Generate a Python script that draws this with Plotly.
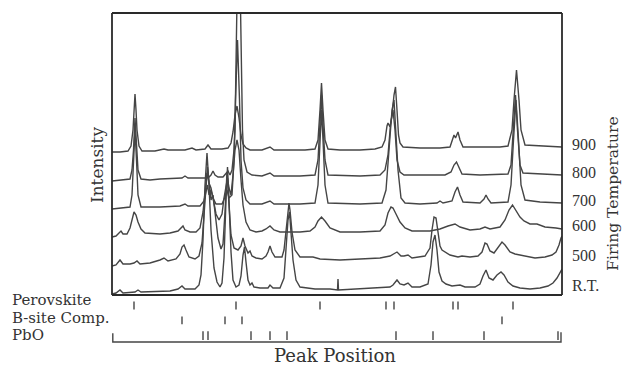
import plotly.graph_objects as go
import numpy as np

# ---------------- data (position in arb. units, stacked intensity in arb. units) ----------------
temps = ["900", "800", "700", "600", "500", "R.T."]

x_900 = [112, 120, 128, 131, 133, 134, 135, 136, 137, 139, 142, 155, 164, 168, 185, 192, 196, 205, 208, 211,
         222, 228, 231, 233, 235, 237, 239, 241, 243, 246, 250, 262, 270, 274, 290, 305, 315, 318, 320, 321.5,
         323, 325, 328, 340, 360, 375, 382, 385, 387, 388, 390, 392, 394, 395.5, 397, 398.5, 400, 403, 420, 440,
         450, 452, 454, 455.5, 458, 460, 463, 480, 500, 508, 512, 514, 516.5, 519, 521, 525, 540, 562]
y_900 = [148, 148, 149, 154, 170, 190, 206, 190, 170, 154, 149, 149, 151, 150, 150, 152, 150, 151, 155, 151,
         151, 152, 157, 168, 185, 194, 182, 165, 156, 152, 150, 150, 153, 150, 150, 150, 151, 160, 190, 217,
         190, 160, 151, 150, 150, 151, 153, 160, 174, 177, 173, 185, 205, 213, 190, 165, 157, 153, 152, 152,
         153, 160, 165, 162, 168, 160, 153, 153, 153, 154, 170, 200, 230, 200, 170, 155, 154, 153]

x_800 = [112, 125, 130, 132, 133.5, 135, 136.5, 138, 141, 150, 160, 182, 185, 188, 205, 209, 211, 213, 215, 218,
         223, 226, 228, 230, 232, 234, 235, 236.8, 238.7, 240.6, 242.5, 244, 247, 252, 262, 270, 274, 300, 315, 318,
         320, 321.5, 323, 325, 328, 360, 380, 385, 388, 390.5, 393, 395, 397, 400, 404, 420, 445, 451, 454, 456.5,
         459, 462, 480, 508, 511, 513.5, 515.5, 517.5, 520, 523, 540, 562]
y_800 = [119, 120, 121, 130, 150, 182, 150, 130, 121, 120, 121, 122, 124, 122, 122, 123, 125, 129, 125, 123,
         123, 126, 129, 125, 130, 150, 170, 287, 400, 287, 170, 140, 128, 125, 124, 127, 124, 124, 125, 140,
         175, 205, 175, 140, 125, 124, 125, 130, 145, 175, 190, 170, 140, 128, 125, 125, 125, 128, 135, 138,
         132, 126, 125, 126, 135, 170, 205, 170, 135, 127, 126, 125]

x_700 = [112, 125, 130, 132, 133.5, 135, 136.5, 138, 141, 160, 180, 185, 188, 200, 204, 206, 207.5, 209, 211, 213,
         216, 222, 225, 227, 229, 232, 234, 235.5, 237.5, 239.5, 241, 243, 246, 250, 262, 270, 274, 300, 315, 318,
         320, 321.5, 323, 325, 328, 360, 382, 386, 389, 392, 394, 396, 398, 401, 405, 420, 437, 440, 443, 452,
         455, 457.5, 460, 463, 480, 484, 486, 488, 491, 508, 511, 513.5, 516, 518.5, 521, 525, 540, 562]
y_700 = [91, 92, 93, 105, 140, 170, 140, 105, 93, 93, 94, 96, 94, 94, 99, 107, 115, 105, 110, 102,
         96, 96, 103, 110, 102, 105, 140, 200, 260, 200, 140, 112, 100, 96, 96, 99, 96, 96, 97, 115,
         160, 190, 160, 115, 97, 96, 97, 110, 150, 190, 200, 170, 130, 102, 97, 96, 97, 99, 97, 99,
         108, 113, 105, 98, 97, 101, 105, 101, 97, 98, 115, 160, 200, 160, 115, 100, 98, 97]

x_600 = [112, 116, 119, 121, 123, 127, 130, 132, 134, 136, 138, 141, 145, 160, 170, 178, 181, 183, 185, 190,
         196, 200, 203, 205, 207, 209, 211, 213, 216, 219, 222, 224, 226, 227.5, 229, 231, 233, 235, 237, 239,
         241, 243, 246, 250, 256, 262, 266, 270, 274, 280, 300, 310, 315, 318, 321.5, 325, 330, 340, 360, 380,
         385, 388, 391, 393, 396, 400, 405, 412, 430, 440, 448, 455, 460, 470, 480, 485, 490, 500, 505, 509,
         512.5, 516, 520, 524, 530, 537, 545, 556, 562]
y_600 = [63, 64, 67, 69, 66, 66, 72, 80, 88, 85, 78, 71, 67, 66, 67, 69, 72, 74, 70, 68,
         68, 72, 88, 110, 127, 117, 112, 102, 86, 80, 86, 102, 116, 122, 112, 105, 125, 150, 160, 150,
         120, 95, 78, 70, 68, 69, 71, 74, 70, 68, 68, 69, 73, 79, 83, 79, 72, 68, 68, 69,
         75, 87, 93, 92, 86, 78, 72, 69, 69, 71, 74, 76, 73, 70, 71, 73, 71, 73, 80, 90,
         95, 90, 83, 79, 76, 76, 73, 72, 71]

x_500 = [112, 116, 120, 123, 130, 134, 137, 140, 150, 160, 164, 168, 176, 180, 182, 184, 186, 189, 195, 199,
         202, 204, 206, 207.5, 209, 211, 213, 215, 218, 221, 223, 225, 227, 229, 231, 234, 238, 241, 243, 245,
         248, 250, 252, 256, 262, 266, 268, 270, 272, 275, 282, 284, 286, 288, 289, 290, 292, 295, 300, 313,
         320, 340, 360, 380, 390, 397, 401, 404, 408, 412, 425, 430, 432, 434, 436, 438, 440, 442, 445, 450,
         458, 462, 470, 478, 482, 485, 487, 490, 494, 498, 502, 505, 510, 515, 525, 535, 545, 552, 556, 559,
         561, 562]
y_500 = [34, 35, 40, 36, 36, 37, 39, 36, 37, 40, 42, 39, 41, 46, 53, 55, 50, 43, 41, 44,
         57, 85, 120, 133, 118, 100, 105, 87, 62, 51, 56, 88, 128, 95, 65, 52, 50, 54, 62, 54,
         47, 49, 44, 42, 41, 44, 48, 54, 48, 43, 43, 50, 72, 93, 97, 90, 68, 50, 43, 43,
         41, 40, 41, 42, 44, 48, 44, 44, 45, 42, 44, 52, 70, 83, 82, 65, 54, 50, 48, 45,
         43, 44, 43, 44, 48, 57, 56, 49, 47, 53, 58, 55, 48, 46, 44, 42, 43, 45, 48, 55,
         62, 64]

x_rt = [112, 116, 120, 123, 135, 138, 141, 160, 170, 178, 182, 185, 195, 199, 201, 203, 205, 207, 209, 211,
        214, 217, 220, 222, 224, 226, 227.5, 229, 231, 233, 236, 239, 241, 243, 244.5, 246, 248, 250, 252, 254,
        260, 268, 270, 273, 280, 284, 286, 288, 289.5, 291, 293, 296, 300, 315, 330, 337.5, 338, 338.5, 360, 380,
        390, 393, 397, 400, 404, 408, 412, 420, 428, 431, 433, 435, 437, 439, 442, 446, 452, 460, 465, 475,
        480, 483, 486, 489, 493, 497, 501, 504, 508, 513, 520, 530, 540, 548, 553, 557, 560, 562]
y_rt = [6, 7, 10, 7, 8, 10, 8, 9, 9, 11, 14, 11, 11, 15, 25, 60, 115, 147, 115, 70,
        32, 18, 13, 17, 42, 100, 133, 100, 48, 20, 13, 15, 24, 45, 53, 38, 20, 15, 17, 13,
        12, 12, 15, 12, 12, 22, 50, 80, 88, 70, 40, 20, 13, 11, 11, 10, 21, 10, 11, 12,
        13, 15, 20, 16, 15, 17, 13, 13, 16, 35, 58, 65, 50, 28, 19, 16, 14, 15, 13, 13,
        16, 24, 30, 22, 20, 25, 28, 25, 18, 14, 12, 11, 12, 14, 17, 22, 28, 31]

# reference peak positions (tick rows under the pattern)
row_names = ["Perovskite", "B-site Comp.", "PbO"]
perovskite_peaks = [134, 236, 320, 386, 394, 453, 458, 513]
bsite_peaks = [182, 225, 242, 502]
pbo_peaks = [203, 208, 251, 270, 287, 396, 433, 484, 558]

# ---------------- styling ----------------
LINE = "#454545"
FRAME = "#2a2a2a"
TXT = "#333333"
SERIF = "DejaVu Serif, Liberation Serif, serif"
NUMF = "Liberation Serif, DejaVu Serif, serif"
X_LO, X_HI = 112, 562
MAIN_BOTTOM = 0.1506

series = [(x_900, y_900), (x_800, y_800), (x_700, y_700),
          (x_600, y_600), (x_500, y_500), (x_rt, y_rt)]

fig = go.Figure()
for xs, ys in series:
    fig.add_trace(go.Scatter(x=xs, y=ys, mode="lines", xaxis="x", yaxis="y",
                             line=dict(color=LINE, width=1.4), hoverinfo="skip", showlegend=False))

# tick rows
row_spans = [(36, 44), (21, 29), (5, 14)]
for peaks, (lo, hi) in zip([perovskite_peaks, bsite_peaks, pbo_peaks], row_spans):
    xs, ys = [], []
    for p in peaks:
        xs += [p, p, None]
        ys += [lo, hi, None]
    fig.add_trace(go.Scatter(x=xs, y=ys, mode="lines", xaxis="x", yaxis="y2",
                             line=dict(color=LINE, width=1.4), hoverinfo="skip", showlegend=False))

# bracket under the PbO row spanning the full position range
fig.add_trace(go.Scatter(x=[X_LO + 0.8, X_LO + 0.8, X_HI - 1, X_HI - 1], y=[12, 3, 3, 13],
                         mode="lines", xaxis="x", yaxis="y2",
                         line=dict(color=LINE, width=1.4), hoverinfo="skip", showlegend=False))

annotations = []
# row labels
for name, yy in zip(row_names, [46, 27, 10]):
    annotations.append(dict(text=name, xref="paper", yref="y2", x=-0.2267, y=yy,
                            xanchor="left", yanchor="middle", showarrow=False,
                            font=dict(family=SERIF, size=15, color=TXT)))
# temperature labels at the right end of each pattern
for lab, (xs, ys) in zip(temps, series):
    yy = float(np.interp(545, xs, ys)) + 1.5
    annotations.append(dict(text=lab, xref="paper", yref="y", x=1.018, y=yy,
                            xanchor="left", yanchor="middle", showarrow=False,
                            font=dict(family=NUMF, size=16, color=TXT)))
annotations += [
    dict(text="Intensity", xref="paper", yref="paper", x=-0.0333, y=0.542, textangle=-90,
         xanchor="center", yanchor="middle", showarrow=False,
         font=dict(family=SERIF, size=17, color=TXT)),
    dict(text="Firing Temperature", xref="paper", yref="paper", x=1.113, y=0.455, textangle=-90,
         xanchor="center", yanchor="middle", showarrow=False,
         font=dict(family=SERIF, size=15.5, color=TXT)),
    dict(text="Peak Position", xref="x", yref="paper", x=335, y=-0.033,
         xanchor="center", yanchor="middle", showarrow=False,
         font=dict(family=SERIF, size=18, color=TXT)),
]

# plot frame around the pattern area: four explicit edges
shapes = []
for (x0, y0, x1, y1) in [(0, MAIN_BOTTOM, 1, MAIN_BOTTOM), (0, 1, 1, 1),
                         (0, MAIN_BOTTOM, 0, 1), (1, MAIN_BOTTOM, 1, 1)]:
    shapes.append(dict(type="line", xref="paper", yref="paper", x0=x0, y0=y0, x1=x1, y1=y1,
                       line=dict(color=FRAME, width=1.8), layer="above"))

axis_common = dict(showgrid=False, zeroline=False, showticklabels=False, ticks="", showline=False)
fig.update_layout(
    width=622, height=366,
    margin=dict(l=112, r=60, t=13, b=21),
    paper_bgcolor="white", plot_bgcolor="white",
    xaxis=dict(range=[X_LO, X_HI], anchor="y", **axis_common),
    yaxis=dict(range=[5, 287], domain=[MAIN_BOTTOM, 1], anchor="x", **axis_common),
    yaxis2=dict(range=[0, 50], domain=[0, MAIN_BOTTOM - 0.002], anchor="x", visible=False,
                **axis_common),
    annotations=annotations,
    shapes=shapes,
    showlegend=False,
)

fig.write_html("out.html")
